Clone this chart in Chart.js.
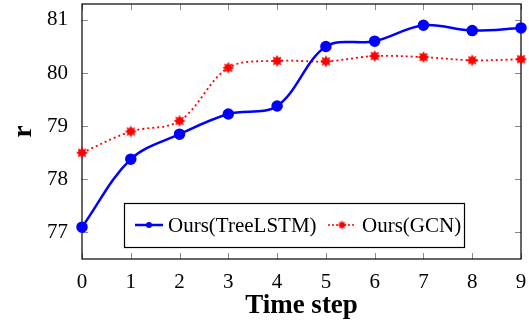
<!DOCTYPE html>
<html>
<head>
<meta charset="utf-8">
<script src="https://cdn.jsdelivr.net/npm/chart.js@4/dist/chart.umd.min.js"></script>
<style>
  html, body { margin: 0; padding: 0; background: #fff; }
  #wrap { width: 529px; height: 324px; position: relative; }
</style>
</head>
<body>
<div id="wrap"><canvas id="chart"></canvas></div>
<script>
const timeSteps = [0, 1, 2, 3, 4, 5, 6, 7, 8, 9];
const treeLstm = [77.1, 78.38, 78.85, 79.23, 79.38, 80.5, 80.6, 80.9, 80.8, 80.85];
const gcn = [78.5, 78.9, 79.1, 80.1, 80.23, 80.22, 80.32, 80.3, 80.24, 80.26];
const yTicks = [77, 78, 79, 80, 81];
const seriesNames = ["Ours(TreeLSTM)", "Ours(GCN)"];

const FONT = "'Liberation Serif', 'DejaVu Serif', serif";

// filled asterisk-like star marker (pgfplots "asterisk" look)
function makeStar(r) {
  const c = document.createElement("canvas");
  const s = Math.ceil(r * 2 + 4);
  c.width = s; c.height = s;
  const g = c.getContext("2d");
  const m = s / 2;
  g.fillStyle = "#ff0000";
  g.beginPath();
  for (let i = 0; i < 16; i++) {
    const ang = i * Math.PI / 8 - Math.PI / 2;
    const rr = i % 2 === 0 ? r : r * 0.6;
    const px = m + rr * Math.cos(ang), py = m + rr * Math.sin(ang);
    i === 0 ? g.moveTo(px, py) : g.lineTo(px, py);
  }
  g.closePath();
  g.fill();
  return c;
}
const starMarker = makeStar(6);
const starSmall = makeStar(4.5);

// frame + inward tick marks on all four sides, pgfplots style
const framePlugin = {
  id: "frame",
  beforeDatasetsDraw(chart) {
    const { ctx, chartArea: a, scales } = chart;
    ctx.save();
    ctx.strokeStyle = "#888";
    ctx.lineWidth = 1;
    const len = 6;
    timeSteps.forEach(v => {
      const x = Math.round(scales.x.getPixelForValue(v)) + 0.5;
      ctx.beginPath();
      ctx.moveTo(x, a.bottom); ctx.lineTo(x, a.bottom - len);
      ctx.moveTo(x, a.top); ctx.lineTo(x, a.top + len);
      ctx.stroke();
    });
    yTicks.forEach(v => {
      const y = Math.round(scales.y.getPixelForValue(v)) + 0.5;
      ctx.beginPath();
      ctx.moveTo(a.left, y); ctx.lineTo(a.left + len, y);
      ctx.moveTo(a.right, y); ctx.lineTo(a.right - len, y);
      ctx.stroke();
    });
    ctx.strokeStyle = "#000";
    ctx.lineWidth = 1.2;
    ctx.strokeRect(a.left, a.top, a.right - a.left, a.bottom - a.top);
    ctx.restore();
  },
  afterDraw(chart) {
    const ctx = chart.ctx;
    ctx.save();
    // legend box inside the plot
    const bx = 124, by = 203, bw = 340, bh = 44;
    ctx.fillStyle = "#fff";
    ctx.fillRect(bx, by, bw, bh);
    ctx.strokeStyle = "#000";
    ctx.lineWidth = 1.2;
    ctx.strokeRect(bx + 0.5, by + 0.5, bw, bh);
    const cy = by + bh / 2;
    ctx.font = "21px " + FONT;
    ctx.textBaseline = "middle";
    // TreeLSTM entry
    ctx.strokeStyle = "#0000ff";
    ctx.lineWidth = 2.5;
    ctx.beginPath(); ctx.moveTo(bx + 11, cy); ctx.lineTo(bx + 39, cy); ctx.stroke();
    ctx.fillStyle = "#0000ff";
    ctx.beginPath(); ctx.arc(bx + 25, cy, 3, 0, Math.PI * 2); ctx.fill();
    ctx.fillStyle = "#000";
    ctx.fillText(seriesNames[0], bx + 44, cy + 1);
    // GCN entry
    ctx.strokeStyle = "#ff0000";
    ctx.lineWidth = 1.5;
    ctx.setLineDash([2, 2]);
    ctx.beginPath(); ctx.moveTo(bx + 204, cy); ctx.lineTo(bx + 232, cy); ctx.stroke();
    ctx.setLineDash([]);
    ctx.drawImage(starSmall, bx + 218 - starSmall.width / 2, cy - starSmall.height / 2);
    ctx.fillStyle = "#000";
    ctx.fillText(seriesNames[1], bx + 238, cy + 1);
    ctx.restore();
  }
};

new Chart(document.getElementById("chart"), {
  type: "line",
  data: {
    labels: timeSteps,
    datasets: [
      {
        label: seriesNames[0],
        data: treeLstm,
        borderColor: "#0000ff",
        backgroundColor: "#0000ff",
        borderWidth: 2.5,
        pointRadius: 4.5,
        pointStyle: "circle",
        tension: 0.35,
        clip: false
      },
      {
        label: seriesNames[1],
        data: gcn,
        borderColor: "#ff0000",
        backgroundColor: "#ff0000",
        borderWidth: 1.8,
        borderDash: [2, 3],
        pointRadius: 6,
        pointStyle: starMarker,
        tension: 0.35,
        clip: false
      }
    ]
  },
  options: {
    responsive: true,
    maintainAspectRatio: false,
    animation: false,
    layout: { autoPadding: false, padding: { top: 4, right: 8, left: 0, bottom: 0 } },
    plugins: {
      legend: { display: false },
      tooltip: { enabled: false }
    },
    scales: {
      x: {
        type: "linear",
        min: 0,
        max: 9,
        grid: { display: false },
        border: { display: false },
        ticks: {
          stepSize: 1,
          color: "#000",
          font: { family: FONT, size: 21 },
          padding: 3
        },
        title: {
          display: true,
          text: "Time step",
          color: "#000",
          font: { family: FONT, size: 27, weight: "bold" },
          padding: { top: 0, bottom: 2 }
        },
        afterFit(scale) { scale.height = 65; scale.paddingRight = 0; }
      },
      y: {
        min: 76.5,
        max: 81.3,
        grid: { display: false },
        border: { display: false },
        afterBuildTicks(scale) { scale.ticks = yTicks.map(v => ({ value: v })); },
        ticks: {
          color: "#000",
          font: { family: FONT, size: 21 },
          padding: 6
        },
        title: {
          display: true,
          text: "r",
          color: "#000",
          font: { family: FONT, size: 27, weight: "bold" },
          padding: { top: 8, bottom: 0 }
        },
        afterFit(scale) { scale.width = 82; scale.paddingTop = 0; scale.paddingBottom = 0; }
      }
    }
  },
  plugins: [framePlugin]
});
</script>
</body>
</html>
